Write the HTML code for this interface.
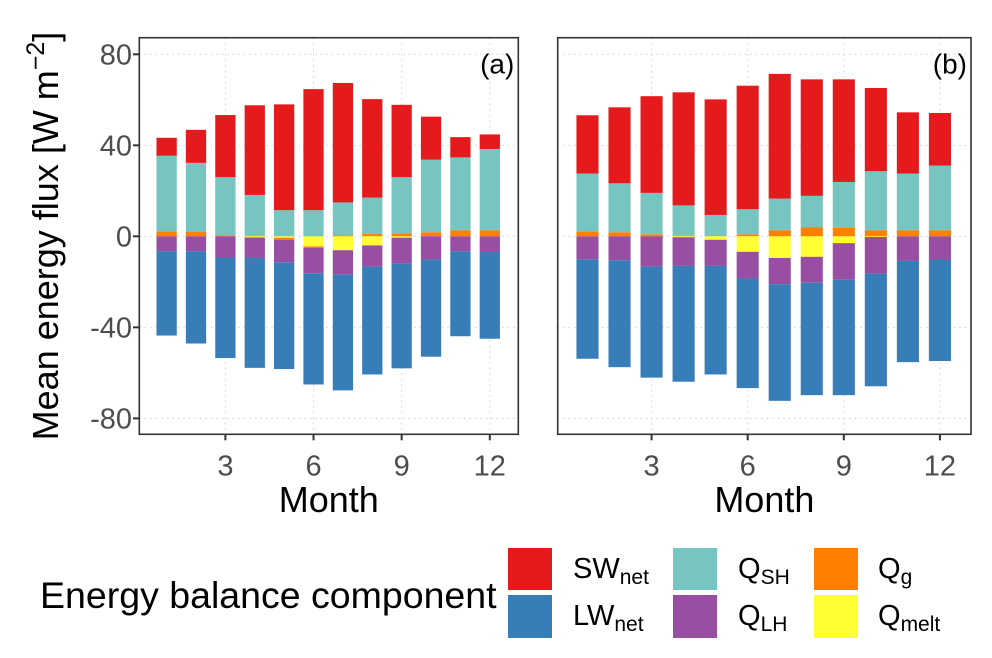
<!DOCTYPE html>
<html><head><meta charset="utf-8"><style>
html,body{margin:0;padding:0;background:#fff;}
svg{display:block;font-family:"Liberation Sans",Arial,sans-serif;}
</style></head><body>
<svg id="chart" width="992" height="658" viewBox="0 0 992 658" xmlns="http://www.w3.org/2000/svg">
  <text transform="translate(58,236) rotate(-90)" text-anchor="middle" font-size="36" fill="#000">Mean energy flux [W m<tspan dy="-14" font-size="25">−2</tspan><tspan dy="14">]</tspan></text>
  <g id="panels"></g>
  <g>
    <text x="40" y="608" font-size="37.5" fill="#000">Energy balance component</text>
    <rect x="508" y="548" width="44" height="42" fill="#E41A1C"/>
    <rect x="508" y="595" width="44" height="43" fill="#377EB8"/>
    <rect x="673" y="548" width="44" height="42" fill="#76C5C0"/>
    <rect x="673" y="595" width="44" height="43" fill="#984EA3"/>
    <rect x="814" y="548" width="44" height="42" fill="#FF7F00"/>
    <rect x="814" y="595" width="44" height="43" fill="#FFFF33"/>
    <text x="573" y="578" font-size="29">SW<tspan dy="6" font-size="21">net</tspan></text>
    <text x="573" y="625" font-size="29">LW<tspan dy="6" font-size="21">net</tspan></text>
    <text x="738" y="578" font-size="29">Q<tspan dy="6" font-size="21">SH</tspan></text>
    <text x="738" y="625" font-size="29">Q<tspan dy="6" font-size="21">LH</tspan></text>
    <text x="878" y="578" font-size="29">Q<tspan dy="6" font-size="21">g</tspan></text>
    <text x="878" y="625" font-size="29">Q<tspan dy="6" font-size="21">melt</tspan></text>
  </g>
</svg>
<script>
const months = [1,2,3,4,5,6,7,8,9,10,11,12];
const yTicks = [-80,-40,0,40,80];
const xTicks = [3,6,9,12];
// Panel (a)
const aSW = [7.9,14.5,27.3,39.4,46.5,53.2,52.5,43.3,31.8,18.9,8.9,6.4];
const aSH = [33.2,30.4,25.6,18,11.5,11.5,14.5,16,24.7,31.9,32,35.7];
const aQg = [2.2,1.9,0.4,0.2,-1.0,-0.6,0.4,1.0,1.3,1.8,2.7,2.7];
const aMelt = [0,0,0,-0.5,-0.6,-4.4,-6.1,-4,-0.6,0,0,0];
const aLH = [-6.6,-6.6,-9.3,-9,-9.8,-11.2,-10.6,-9.3,-11.4,-10.2,-6.6,-6.9];
const aLW = [-37,-40.5,-44.2,-48.3,-46.9,-48.9,-51,-47.4,-46,-42.7,-37.3,-38.1];
// Panel (b)
const bSW = [25.6,33.4,42.5,49.7,50.8,54.3,54.8,51.2,45.1,36.6,26.9,23.1];
const bSH = [25.5,21.5,18.2,13.4,9.3,11,13.9,13.9,20.2,25.9,24.9,28.4];
const bQg = [2.1,1.8,0.9,0.2,0.1,0.9,2.7,3.9,3.7,2.7,2.7,2.7];
const bMelt = [0,0,0,-0.4,-1.5,-6.8,-9.5,-9,-3,-0.3,0,0];
const bLH = [-10.1,-10.5,-13.3,-12.6,-11.5,-11.7,-11.5,-11.4,-16.1,-16.1,-10.8,-10.4];
const bLW = [-43.7,-47,-48.8,-50.9,-47.7,-48.2,-51.3,-49.4,-50.7,-49.5,-44.5,-44.4];

const NS='http://www.w3.org/2000/svg';
const root=document.getElementById('panels');
function mk(tag,attrs,parent){const e=document.createElementNS(NS,tag);for(const k in attrs)e.setAttribute(k,attrs[k]);parent.appendChild(e);return e;}
const Y0=37.7,Y1=434.3,YMIN=-87.0,YMAX=87.3;
function yScale(v){return Y1-(v-YMIN)/(YMAX-YMIN)*(Y1-Y0);}
const XMIN=0.07,XMAX=12.97;

function panel(name,x0,x1,label,series){
  const xs=v=>x0+(v-XMIN)/(XMAX-XMIN)*(x1-x0);
  const g=mk('g',{},root);
  
  
  yTicks.forEach(t=>{const l=mk('line',{x1:x0,x2:x1,y1:yScale(t),y2:yScale(t),stroke:'#cfcfcf','stroke-width':1,'stroke-dasharray':'1.5 4'},g);
    });
  xTicks.forEach(t=>{const l=mk('line',{x1:xs(t),x2:xs(t),y1:Y0,y2:Y1,stroke:'#cfcfcf','stroke-width':1,'stroke-dasharray':'1.5 4'},g);
    });
  const bw=(x1-x0)/(XMAX-XMIN)*0.69;
  months.forEach((m,i)=>{
    let pos=0,neg=0;
    const cx=xs(m);
    series.forEach(s=>{
      const v=s.vals[i]; if(!v) return;
      let top,bot;
      if(v>0){bot=pos;top=pos+v;pos=top;}else{top=neg;bot=neg+v;neg=bot;}
      const r=mk('rect',{x:cx-bw/2,y:yScale(top),width:bw,height:Math.max(0,yScale(bot)-yScale(top)),fill:s.color},g);
      
      
    });
  });
  const b=mk('rect',{x:x0,y:Y0,width:x1-x0,height:Y1-Y0,fill:'none',stroke:'#333','stroke-width':1.6},g);
  
  xTicks.forEach(t=>{mk('line',{x1:xs(t),x2:xs(t),y1:Y1,y2:Y1+6,stroke:'#333','stroke-width':2},g);
    const tx=mk('text',{x:xs(t),y:Y1+41,'text-anchor':'middle','font-size':29,fill:'#4d4d4d'},g);
    tx.textContent=t;});
  const lab=mk('text',{x:x1-4,y:Y0+36,'text-anchor':'end','font-size':28,fill:'#000'},g);
  lab.textContent=label;
  const xt=mk('text',{x:(x0+x1)/2,y:512,'text-anchor':'middle','font-size':36,fill:'#000'},g);
  xt.textContent='Month';
  return g;
}
function seriesFor(SW,SH,Qg,Melt,LH,LW){
  return [
    {key:'qg',vals:Qg.map(v=>v>0?v:0),color:'#FF7F00'},
    {key:'qsh',vals:SH,color:'#76C5C0'},
    {key:'swnet',vals:SW,color:'#E41A1C'},
    {key:'qmelt',vals:Melt,color:'#FFFF33'},
    {key:'qg-neg',vals:Qg.map(v=>v<0?v:0),color:'#FF7F00'},
    {key:'qlh',vals:LH,color:'#984EA3'},
    {key:'lwnet',vals:LW,color:'#377EB8'}
  ];
}
const pa=panel('a',139.3,518.3,'(a)',seriesFor(aSW,aSH,aQg,aMelt,aLH,aLW));
panel('b',557.7,971,'(b)',seriesFor(bSW,bSH,bQg,bMelt,bLH,bLW));
yTicks.forEach(t=>{
  mk('line',{x1:133,x2:139.3,y1:yScale(t),y2:yScale(t),stroke:'#333','stroke-width':2},pa);
  const tx=mk('text',{x:132,y:yScale(t)+10,'text-anchor':'end','font-size':29,fill:'#4d4d4d'},pa);
  
  
  tx.textContent=t;
});
</script>
</body></html>
